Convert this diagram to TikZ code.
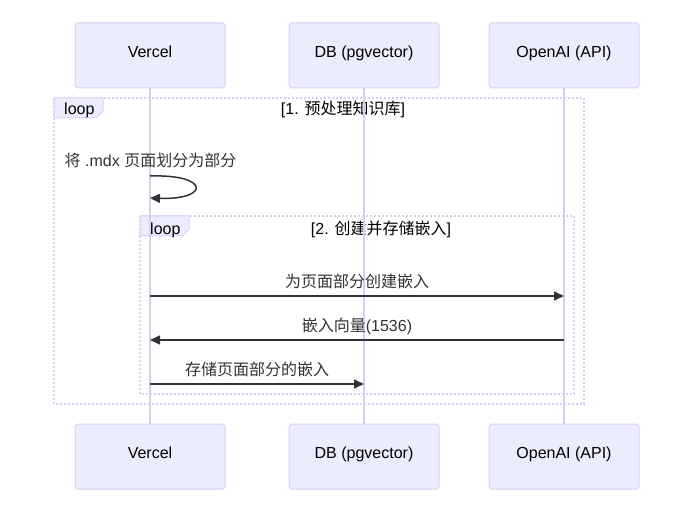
\documentclass[tikz,border=0pt]{standalone}
\usepackage{fontspec}
\setmainfont{Liberation Sans}
\newfontfamily\cjk{Noto Sans CJK SC}
\usetikzlibrary{arrows.meta, calc}
\definecolor{actorfill}{RGB}{236, 236, 255}
\definecolor{actorline}{RGB}{218, 206, 243}
\definecolor{msgdark}{RGB}{51, 51, 51}
\newcommand{\looptag}[2]{
    \draw[actorline, fill=actorfill, line width=1pt]
        (#1, #2) -- ++(49, 0) -- ++(0, 13) -- ++(-7, 7) -- ++(-42, 0) -- cycle;
}

\begin{document}
\begin{tikzpicture}[x=1pt, y=-1pt,
    actorbox/.style={draw=actorline, fill=actorfill, line width=1pt, rounded corners=3pt,
        minimum width=150pt, minimum height=65pt, inner sep=0pt,
        text height=11pt, text depth=7pt, font=\fontsize{16}{19}\selectfont},
    lifeline/.style={actorline, line width=1.2pt},
    loopframe/.style={actorline, line width=2pt, dash pattern=on 2pt off 2pt},
    plaintext/.style={inner sep=0pt, anchor=base, font=\fontsize{16}{19}\selectfont},
    msgtext/.style={plaintext, text=msgdark},
    msgarrow/.style={msgdark, line width=1.5pt, -{Triangle[length=10pt, width=9pt]}}]
    % Fixed canvas
    \useasboundingbox (0, 0) rectangle (688, 505);

    % ----------------------------------------------------
    % Participants (top and bottom)
    % ----------------------------------------------------
    \node[actorbox] (vercelTop) at (150, 55.5) {Vercel};
    \node[actorbox] (dbTop) at (364, 55.5) {DB (pgvector)};
    \node[actorbox] (openaiTop) at (564, 55.5) {OpenAI (API)};
    \node[actorbox] (vercelBot) at (150, 456.5) {Vercel};
    \node[actorbox] (dbBot) at (364, 456.5) {DB (pgvector)};
    \node[actorbox] (openaiBot) at (564, 456.5) {OpenAI (API)};

    % ----------------------------------------------------
    % Loop frames
    % ----------------------------------------------------
    % 1. preprocess knowledge base
    \draw[loopframe] (54, 98) rectangle (584, 404);
    \looptag{54}{98}
    \node[plaintext, anchor=base west] (loopA) at (64, 115) {loop};
    \node[plaintext] (titleA) at (343, 115) {[1. {\cjk 预处理知识库}]};

    % 2. create and store embeddings
    \draw[loopframe] (140, 216) rectangle (574, 394);
    \looptag{140}{216}
    \node[plaintext, anchor=base west] (loopB) at (150, 234.5) {loop};
    \node[plaintext] (titleB) at (381, 234.5) {[2. {\cjk 创建并存储嵌入}]};

    % Lifelines
    \draw[lifeline] (vercelTop) -- (vercelBot);
    \draw[lifeline] (dbTop) -- (dbBot);
    \draw[lifeline] (openaiTop) -- (openaiBot);

    % ----------------------------------------------------
    % Messages
    % ----------------------------------------------------
    % Self message on Vercel
    \coordinate (selfStart) at (150, 176);
    \coordinate (selfEnd) at (150, 198);
    \node[msgtext] (selfText) at (150.5, 166.5) {{\cjk 将} .mdx {\cjk 页面划分为部分}};
    \draw[msgarrow] (selfStart) .. controls (210, 174) and (210, 200) .. (selfEnd);

    \coordinate (mOneA) at (150, 296);
    \coordinate (mOneB) at (564, 296);
    \coordinate (mTwoA) at (564, 340);
    \coordinate (mTwoB) at (150, 340);
    \coordinate (mThreeA) at (150, 384);
    \coordinate (mThreeB) at (364, 384);

    \draw[msgarrow] (mOneA) -- (mOneB);
    \node[msgtext] (mOneText) at ($(mOneA)!0.5!(mOneB)+(0,-9)$) {\cjk 为页面部分创建嵌入};
    \draw[msgarrow] (mTwoA) -- (mTwoB);
    \node[msgtext] (mTwoText) at ($(mTwoA)!0.5!(mTwoB)+(0,-9)$) {{\cjk 嵌入向量}(1536)};
    \draw[msgarrow] (mThreeA) -- (mThreeB);
    \node[msgtext] (mThreeText) at ($(mThreeA)!0.5!(mThreeB)+(0,-9)$) {\cjk 存储页面部分的嵌入};

\end{tikzpicture}
\end{document}
